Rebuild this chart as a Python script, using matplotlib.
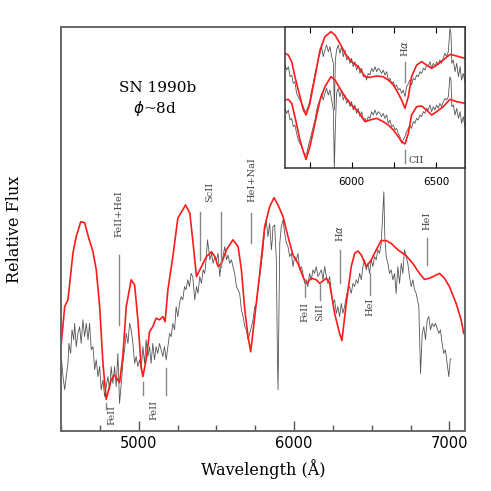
import matplotlib
matplotlib.use("Agg")
import matplotlib.pyplot as plt
from matplotlib.ticker import MultipleLocator

# ── Main panel: observed spectrum (grey) ─────────────────────────────────── #
obs_wave = [4502, 4513, 4524, 4534, 4545, 4551, 4562, 4571, 4582, 4588, 4598, 4609,
            4620, 4630, 4641, 4652, 4663, 4674, 4684, 4695, 4706, 4717, 4727, 4738,
            4749, 4759, 4770, 4781, 4791, 4802, 4813, 4823, 4834, 4845, 4855, 4866,
            4877, 4888, 4898, 4909, 4920, 4931, 4942, 4952, 4963, 4974, 4984, 4995,
            5006, 5016, 5027, 5038, 5048, 5059, 5070, 5080, 5091, 5102, 5112, 5123,
            5134, 5145, 5156, 5166, 5177, 5188, 5199, 5209, 5220, 5231, 5241, 5252,
            5263, 5273, 5284, 5295, 5305, 5316, 5327, 5337, 5348, 5361, 5372, 5382,
            5393, 5404, 5415, 5425, 5436, 5443, 5451, 5458, 5469, 5479, 5490, 5501,
            5511, 5522, 5533, 5543, 5554, 5565, 5575, 5586, 5597, 5607, 5618, 5629,
            5640, 5650, 5661, 5672, 5683, 5693, 5704, 5715, 5726, 5736, 5747, 5758,
            5768, 5779, 5790, 5800, 5811, 5822, 5832, 5843, 5854, 5860, 5864, 5875,
            5886, 5893, 5897, 5901, 5908, 5918, 5929, 5940, 5951, 5961, 5972, 5983,
            5993, 6004, 6015, 6025, 6036, 6047, 6057, 6068, 6079, 6089, 6100, 6111,
            6122, 6132, 6143, 6154, 6176, 6186, 6197, 6208, 6218, 6229, 6240, 6250,
            6261, 6272, 6282, 6293, 6304, 6314, 6325, 6336, 6346, 6357, 6368, 6379,
            6390, 6400, 6411, 6422, 6433, 6443, 6454, 6465, 6475, 6486, 6497, 6507,
            6518, 6529, 6539, 6550, 6561, 6572, 6578, 6584, 6593, 6604, 6614, 6625,
            6636, 6647, 6657, 6668, 6679, 6690, 6700, 6711, 6722, 6732, 6743, 6754,
            6765, 6775, 6786, 6803, 6814, 6825, 6835, 6846, 6857, 6867, 6878, 6889,
            6899, 6910, 6921, 6931, 6942, 6953, 6963, 6974, 6985, 6996, 7005, 7011]
obs_flux = [18.6, 13.6, 10.3, 13.6, 16.9, 21.9, 19.4, 25.3, 22.8, 26.9, 21.1, 24.4,
            26.1, 21.9, 27.8, 23.6, 26.9, 22.8, 26.9, 20.3, 21.1, 15.3, 17.8, 13.6,
            16.1, 10.3, 12.8, 8.6, 11.1, 13.6, 10.3, 16.1, 11.9, 16.1, 11.1, 19.4,
            6.9, 11.9, 16.9, 20.3, 24.4, 21.9, 26.9, 25.3, 21.9, 16.9, 18.6, 16.1,
            17.8, 15.3, 21.1, 16.9, 22.8, 18.6, 21.1, 16.9, 21.9, 17.8, 21.1, 19.4,
            21.9, 20.3, 18.6, 21.1, 17.8, 21.1, 24.4, 23.6, 26.9, 25.3, 31.1, 28.6,
            31.9, 33.6, 32.8, 36.1, 35.3, 37.8, 36.1, 39.4, 38.6, 32.8, 36.1, 34.4,
            38.6, 36.9, 40.3, 39.4, 43.6, 47.8, 45.3, 42.8, 44.4, 41.9, 43.6, 42.8,
            44.4, 38.6, 42.8, 43.6, 46.1, 42.8, 44.0, 41.9, 42.8, 41.1, 39.4, 36.1,
            35.3, 34.4, 30.3, 28.6, 26.1, 25.3, 22.8, 24.4, 26.1, 27.8, 31.1, 31.9,
            35.3, 38.6, 41.9, 45.3, 50.3, 52.3, 48.6, 51.9, 45.3, 47.8, 51.1, 51.5,
            42.8, 17.8, 10.3, 24.4, 46.9, 51.1, 52.8, 49.4, 46.9, 46.1, 43.6, 44.4,
            41.1, 43.6, 42.8, 44.4, 40.3, 41.1, 39.4, 36.9, 37.8, 36.1, 39.4, 37.8,
            40.3, 39.4, 41.1, 38.6, 40.3, 37.8, 41.1, 38.6, 36.9, 38.6, 34.4, 31.9,
            32.8, 29.4, 31.1, 28.6, 31.9, 29.4, 31.1, 33.6, 35.3, 36.1, 34.4, 36.9,
            36.1, 37.8, 36.9, 39.4, 37.8, 41.1, 42.8, 40.3, 41.9, 39.4, 42.8, 41.1,
            43.6, 42.8, 45.3, 44.4, 46.9, 55.3, 59.8, 48.6, 43.6, 41.9, 39.4, 40.3,
            37.8, 39.4, 34.4, 41.1, 36.9, 41.9, 39.4, 45.3, 43.6, 41.9, 38.6, 36.1,
            37.8, 35.3, 34.4, 31.1, 14.4, 24.4, 26.1, 22.8, 27.8, 28.6, 25.3, 26.9,
            26.1, 26.9, 25.7, 24.4, 25.3, 21.9, 19.4, 20.3, 16.9, 13.6, 17.8, 18.1]

# ── Main panel: model spectrum (red) ─────────────────────────────────────── #
mod_wave = [4500, 4524, 4545, 4577, 4598, 4627, 4652, 4678, 4706, 4727, 4749, 4770,
            4791, 4823, 4845, 4877, 4898, 4920, 4952, 4974, 4995, 5016, 5027, 5048,
            5070, 5091, 5112, 5134, 5156, 5170, 5188, 5220, 5252, 5284, 5301, 5329,
            5350, 5372, 5404, 5436, 5469, 5490, 5511, 5533, 5565, 5607, 5640, 5661,
            5683, 5704, 5721, 5747, 5779, 5811, 5843, 5871, 5897, 5929, 5961, 5993,
            6025, 6057, 6079, 6111, 6143, 6165, 6208, 6229, 6261, 6293, 6308, 6336,
            6368, 6390, 6411, 6433, 6465, 6497, 6529, 6561, 6593, 6625, 6668, 6722,
            6764, 6807, 6839, 6872, 6904, 6936, 6968, 7000, 7043, 7075, 7092]
mod_flux = [21.1, 31.1, 32.8, 44.5, 48.6, 52.3, 52.1, 48.3, 44.8, 40.3, 31.1, 17.0,
            7.9, 12.8, 14.0, 12.1, 18.6, 31.1, 37.8, 36.5, 27.8, 16.1, 13.6, 17.8,
            24.8, 26.1, 28.2, 27.8, 28.6, 27.3, 35.3, 43.6, 53.2, 55.3, 56.5, 54.5,
            47.0, 38.6, 41.1, 43.6, 44.8, 43.6, 41.1, 41.9, 45.3, 47.8, 46.1, 40.3,
            30.3, 23.6, 19.8, 28.6, 39.4, 51.1, 56.1, 58.3, 56.5, 53.6, 48.6, 44.0,
            41.9, 38.6, 36.9, 38.2, 37.8, 36.9, 38.2, 36.9, 29.4, 24.4, 22.6, 31.9,
            41.1, 44.4, 45.0, 44.0, 41.1, 42.8, 45.3, 47.6, 47.6, 46.9, 45.3, 43.8,
            41.9, 39.4, 37.9, 38.2, 38.8, 39.4, 38.2, 36.1, 31.9, 27.8, 24.4]

# ── Line identifications: (label, label x, label y, [(x, y0, y1), ...]) ─── #
ids_above = [
    ("FeII+HeI", 4875, 48.5, [(4871, 26.5, 44.0)]),
    ("ScII",     5458, 57.3, [(5393, 42.8, 54.8), (5528, 41.0, 54.8)]),
    ("HeI+NaI",  5726, 57.3, [(5726, 47.0, 54.5)]),
    ("H$\\alpha$", 6293, 47.3, [(6293, 37.0, 45.3)]),
    ("HeI",      6854, 50.3, [(6854, 41.5, 48.3)]),
]
ids_below = [
    ("FeII", 4828, 6.5,  [(4787, 5.5, 7.0)]),
    ("FeII", 5098, 7.8,  [(5029, 9.0, 12.3), (5175, 9.0, 15.8)]),
    ("FeII", 6073, 32.3, [(6073, 33.5, 37.8)]),
    ("SiII", 6165, 32.0, [(6165, 32.8, 37.0)]),
    ("HeI",  6486, 33.3, [(6486, 34.0, 39.5)]),
]

# ── Inset: two epochs, observed (grey) and model (red) ──────────────────── #
ins_obs_wave = [5604, 5614, 5624, 5634, 5644, 5653, 5663, 5673, 5683, 5693, 5703, 5713,
                5723, 5733, 5742, 5752, 5762, 5772, 5782, 5792, 5802, 5812, 5821, 5831,
                5841, 5851, 5861, 5871, 5881, 5891, 5897, 5903, 5910, 5920, 5930, 5940,
                5950, 5960, 5970, 5980, 5990, 5999, 6009, 6019, 6029, 6039, 6049, 6059,
                6069, 6079, 6088, 6098, 6108, 6118, 6128, 6138, 6148, 6158, 6167, 6177,
                6187, 6197, 6207, 6217, 6227, 6237, 6247, 6257, 6266, 6276, 6286, 6296,
                6306, 6316, 6326, 6336, 6345, 6355, 6365, 6375, 6385, 6395, 6405, 6415,
                6425, 6435, 6444, 6454, 6464, 6474, 6484, 6494, 6504, 6514, 6523, 6533,
                6543, 6553, 6563, 6573, 6583, 6589, 6594, 6603, 6613, 6623, 6633, 6643,
                6652, 6662, 6672]
ins_obs_top = [31.0, 29.5, 30.5, 27.5, 28.0, 25.5, 26.0, 22.5, 21.5, 20.5, 19.5, 18.5,
               17.0, 17.5, 18.5, 20.5, 23.5, 25.5, 28.5, 30.5, 33.0, 34.5, 36.5, 33.5,
               35.5, 37.0, 35.0, 36.5, 33.5, 31.5, 17.5, 32.5, 35.5, 37.0, 34.5, 36.5,
               33.5, 35.5, 32.5, 33.5, 31.5, 33.0, 30.5, 32.0, 29.5, 31.0, 28.5, 30.0,
               27.5, 28.0, 26.5, 28.5, 28.0, 30.0, 29.0, 30.5, 29.0, 30.0, 29.5, 28.5,
               29.5, 28.0, 29.0, 26.5, 27.0, 25.5, 26.0, 24.5, 25.0, 23.5, 24.0, 22.5,
               23.5, 21.5, 24.5, 25.5, 26.5, 25.0, 27.0, 26.5, 28.0, 27.5, 29.0, 28.5,
               30.0, 29.5, 31.0, 30.5, 32.0, 30.0, 31.5, 30.5, 32.0, 31.0, 32.5, 31.5,
               33.0, 34.5, 33.5, 35.0, 42.0, 40.5, 31.5, 32.5, 29.0, 31.5, 27.5, 30.5,
               26.5, 28.5, 26.0]
ins_obs_bot = [18.0, 16.5, 17.5, 14.5, 15.0, 12.5, 13.0, 10.5, 8.5, 7.5, 6.5, 5.0,
               4.0, 4.5, 6.5, 8.5, 10.5, 12.5, 14.5, 17.5, 19.5, 20.5, 22.5, 20.5,
               22.5, 24.0, 22.0, 23.5, 20.5, 17.5, 0.0, 12.5, 22.5, 24.0, 21.5, 23.5,
               20.5, 22.0, 19.5, 20.5, 18.5, 20.0, 17.5, 19.0, 16.5, 18.0, 15.5, 17.0,
               14.5, 15.0, 14.0, 15.5, 15.0, 17.0, 16.0, 17.5, 16.0, 17.0, 16.5, 15.5,
               16.5, 15.0, 16.0, 13.5, 14.5, 12.5, 13.0, 11.5, 12.0, 10.5, 9.5, 7.5,
               8.5, 9.5, 11.0, 12.0, 13.0, 12.0, 14.0, 13.5, 15.0, 14.5, 16.0, 15.5,
               17.0, 16.5, 18.0, 17.5, 19.0, 17.0, 18.5, 17.5, 19.0, 18.0, 19.5, 18.5,
               20.0, 21.0, 20.5, 21.5, 27.5, 26.5, 18.5, 19.0, 16.0, 18.0, 15.0, 17.0,
               13.5, 15.5, 12.5]

ins_mod_wave = [5604, 5624, 5644, 5663, 5693, 5713, 5729, 5752, 5782, 5812, 5841, 5877,
                5901, 5930, 5960, 5999, 6039, 6079, 6108, 6148, 6187, 6217, 6247, 6276,
                6296, 6316, 6336, 6355, 6385, 6415, 6444, 6474, 6504, 6543, 6583, 6623,
                6672]
ins_mod_top = [34.5, 34.0, 32.0, 27.5, 21.5, 17.5, 16.0, 19.5, 27.5, 35.5, 39.5, 41.0,
               40.0, 37.5, 34.5, 32.0, 30.5, 27.5, 27.3, 27.7, 27.5, 26.5, 25.0, 22.5,
               20.5, 18.0, 21.5, 27.5, 31.0, 32.0, 31.0, 30.0, 31.0, 32.5, 34.2, 33.7,
               33.0]
ins_mod_bot = [20.5, 20.7, 19.5, 15.5, 8.5, 5.0, 2.7, 6.5, 13.5, 20.5, 24.5, 27.5,
               26.5, 24.0, 21.5, 19.0, 17.0, 14.0, 14.5, 15.0, 14.0, 13.0, 11.5, 9.5,
               8.0, 7.3, 10.5, 16.0, 18.5, 18.7, 17.5, 16.0, 17.0, 18.5, 20.7, 20.0,
               19.5]

OBS_C = "#555555"
MOD_C = "#ff1a1a"
ID_C = "#888888"
SERIF = "DejaVu Serif"

fig = plt.figure(figsize=(4.91, 4.91), dpi=100)

# ── Main panel ───────────────────────────────────────────────────────────── #
ax = fig.add_axes([0.1242, 0.1222, 0.8228, 0.8228])
ax.plot(obs_wave, obs_flux, color=OBS_C, lw=0.6)
ax.plot(mod_wave, mod_flux, color=MOD_C, lw=1.2)
ax.set_xlim(4500, 7100)
ax.set_ylim(0, 101)
ax.xaxis.set_major_locator(MultipleLocator(1000))
ax.xaxis.set_minor_locator(MultipleLocator(250))
ax.tick_params(axis="x", which="major", direction="in", length=7, width=1,
               labelsize=10.5, color="#555555")
ax.tick_params(axis="x", which="minor", direction="in", length=4, width=1,
               color="#555555")
ax.set_yticks([])
for s in ax.spines.values():
    s.set_color("#666666")
    s.set_linewidth(1.4)
ax.set_xlabel("Wavelength (Å)", family=SERIF, fontsize=11.5, labelpad=6)
ax.set_ylabel("Relative Flux", family=SERIF, fontsize=11.5, labelpad=27)

for label, lx, ly, segs in ids_above:
    for x, y0, y1 in segs:
        ax.plot([x, x], [y0, y1], color=ID_C, lw=1)
    ax.text(lx, ly, label, rotation=90, ha="center", va="bottom",
            family=SERIF, fontsize=7, color="#444444")
for label, lx, ly, segs in ids_below:
    for x, y0, y1 in segs:
        ax.plot([x, x], [y0, y1], color=ID_C, lw=1)
    ax.text(lx, ly, label, rotation=90, ha="center", va="top",
            family=SERIF, fontsize=7, color="#444444")

ax.text(5120, 85.7, "SN 1990b", ha="center", va="center", family=SERIF, fontsize=11)
ax.text(5104, 80.7, r"$\phi$~8d", ha="center", va="center", family=SERIF, fontsize=11)

# ── Inset ────────────────────────────────────────────────────────────────── #
ins = fig.add_axes([0.5804, 0.6572, 0.3666, 0.2884])
ins.plot(ins_obs_wave, ins_obs_top, color=OBS_C, lw=0.6)
ins.plot(ins_obs_wave, ins_obs_bot, color=OBS_C, lw=0.6)
ins.plot(ins_mod_wave, ins_mod_top, color=MOD_C, lw=1.2)
ins.plot(ins_mod_wave, ins_mod_bot, color=MOD_C, lw=1.2)
ins.set_xlim(5604, 6672)
ins.set_ylim(0, 42.5)
ins.xaxis.set_major_locator(MultipleLocator(500))
ins.xaxis.set_minor_locator(MultipleLocator(250))
ins.tick_params(axis="x", which="both", direction="in", top=True, length=4,
                width=0.8, labelsize=7.5, pad=6)
ins.set_yticks([])
for s in ins.spines.values():
    s.set_linewidth(1.1)
    s.set_color("#333333")

ins.plot([6316, 6316], [26.0, 32.0], color=ID_C, lw=1)
ins.text(6313, 33.5, "H$\\alpha$", rotation=90, ha="center", va="bottom",
         family=SERIF, fontsize=7, color="#444444")
ins.plot([6316, 6316], [1.5, 5.5], color=ID_C, lw=1)
ins.text(6336, 2.3, "CII", ha="left", va="center", family=SERIF, fontsize=7,
         color="#444444")

fig.savefig("out.png", dpi=100)
